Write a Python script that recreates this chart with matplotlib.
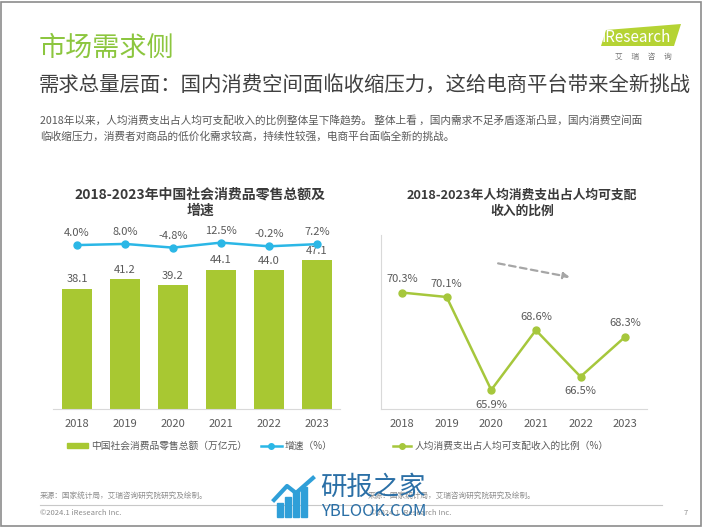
import matplotlib
matplotlib.use("Agg")
import matplotlib.pyplot as plt
from matplotlib.lines import Line2D
from matplotlib.patches import Rectangle, Polygon

plt.rcParams['font.family'] = ['Noto Sans CJK SC', 'DejaVu Sans']

# data
years = ['2018', '2019', '2020', '2021', '2022', '2023']
retail_total = [38.1, 41.2, 39.2, 44.1, 44.0, 47.1]       # 万亿元
retail_growth = [4.0, 8.0, -4.8, 12.5, -0.2, 7.2]         # %
spend_ratio = [70.3, 70.1, 65.9, 68.6, 66.5, 68.3]        # %
ratio_label_above = [True, True, False, True, False, True]

GREEN = '#a8c832'
LINE_GREEN = '#a6c73c'
BLUE = '#2bb7e6'
TXT = '#595959'
DARK = '#3a3a3a'

W, H = 702, 527
fig = plt.figure(figsize=(W / 100, H / 100), dpi=100)


def fx(px):
    return px / W


def fy(py):
    return 1 - py / H


# slide frame
fig.patches.append(Rectangle((0.001, 0.002), 0.997, 0.995, transform=fig.transFigure,
                             fill=False, edgecolor='#8c8c8c', linewidth=1.2))

# header
fig.text(fx(39), fy(48), '市场需求侧', color='#8cc63f', fontsize=19.5, va='center', ha='left')
fig.text(fx(39), fy(85), '需求总量层面：国内消费空间面临收缩压力，这给电商平台带来全新挑战',
         color='#404040', fontsize=14.7, va='center', ha='left')
fig.text(fx(40), fy(120),
         '2018年以来，人均消费支出占人均可支配收入的比例整体呈下降趋势。 整体上看 ，国内需求不足矛盾逐渐凸显，国内消费空间面',
         color=TXT, fontsize=7.7, va='center', ha='left')
fig.text(fx(40), fy(136), '临收缩压力，消费者对商品的低价化需求较高，持续性较强，电商平台面临全新的挑战。',
         color=TXT, fontsize=7.7, va='center', ha='left')

# logo
fig.patches.append(Polygon([(fx(601), fy(46)), (fx(606), fy(30)), (fx(681), fy(24)), (fx(674), fy(46))],
                           closed=True, transform=fig.transFigure, facecolor='#b5d334', edgecolor='none'))
fig.text(fx(602), fy(37), 'iResearch', color='white', fontsize=11, va='center', ha='left')
fig.text(fx(643), fy(57), '艾     瑞     咨     询', color='#777777', fontsize=5.5, va='center', ha='center')

# ---- left chart: bars + growth line ----
ax1 = fig.add_axes([fx(53), fy(409), fx(340) - fx(53), fy(230) - fy(409)])
x = list(range(len(years)))
ax1.bar(x, retail_total, width=0.62, color=GREEN, zorder=2)
for xi, v in zip(x, retail_total):
    ax1.text(xi, v + 1.3, f'{v:.1f}', ha='center', va='bottom', fontsize=8, color=TXT)
ax1.set_xlim(-0.5, 5.48)
ax1.set_ylim(0, 56.6)
ax1.set_xticks(x)
ax1.set_xticklabels(years, fontsize=8, color=TXT)
ax1.tick_params(axis='x', length=0, pad=7)
ax1.set_yticks([])
for s in ['top', 'right', 'left']:
    ax1.spines[s].set_visible(False)
ax1.spines['bottom'].set_color('#d9d9d9')
ax1.set_title('2018-2023年中国社会消费品零售总额及\n增速', fontsize=10, fontweight='bold',
              color=DARK, x=(200 - 53) / (340 - 53), y=1.04, linespacing=1.22)

ax1b = ax1.twinx()
ax1b.plot(x, retail_growth, color=BLUE, linewidth=1.8, marker='o', markersize=5, zorder=3)
for xi, v in zip(x, retail_growth):
    ax1b.annotate(f'{v:.1f}%', (xi, v), xytext=(0, 5), textcoords='offset points',
                  ha='center', va='bottom', fontsize=8, color=TXT)
ax1b.set_ylim(-561, 56)
ax1b.set_yticks([])
ax1b.axis('off')

# ---- right chart: ratio line ----
ax2 = fig.add_axes([fx(381), fy(409), fx(647) - fx(381), fy(235) - fy(409)])
ax2.plot(x, spend_ratio, color=LINE_GREEN, linewidth=1.8, marker='o', markersize=5)
for xi, v, up in zip(x, spend_ratio, ratio_label_above):
    ax2.annotate(f'{v:.1f}%', (xi, v), xytext=(0, 6 if up else -7), textcoords='offset points',
                 ha='center', va='bottom' if up else 'top', fontsize=8, color=TXT)
ax2.set_xlim(-0.47, 5.49)
ax2.set_ylim(65.04, 72.9)
ax2.set_xticks(x)
ax2.set_xticklabels(years, fontsize=8, color=TXT)
ax2.tick_params(axis='x', length=0, pad=7)
ax2.set_yticks([])
for s in ['top', 'right']:
    ax2.spines[s].set_visible(False)
ax2.spines['bottom'].set_color('#d9d9d9')
ax2.spines['left'].set_color('#d9d9d9')
ax2.set_title('2018-2023年人均消费支出占人均可支配\n收入的比例', fontsize=9.2, fontweight='bold',
              color=DARK, x=(522 - 381) / (647 - 381), y=1.07, linespacing=1.25)
ax2.annotate('', xy=(0.72, 0.755), xytext=(0.43, 0.84), xycoords='axes fraction',
             arrowprops=dict(arrowstyle='-|>', linestyle=(0, (3, 2)), color='#a6a6a6',
                             linewidth=1.6, mutation_scale=9))

# legends
h1 = [Rectangle((0, 0), 1, 1, color=GREEN),
      Line2D([], [], color=BLUE, marker='o', markersize=4, linewidth=1.8)]
fig.legend(h1, ['中国社会消费品零售总额（万亿元）', '增速（%）'], loc='center left',
           bbox_to_anchor=(fx(58), fy(446)), ncol=2, frameon=False, fontsize=7,
           labelcolor=TXT, handlelength=2.2, handleheight=0.5, columnspacing=1.4, handletextpad=0.3)
h2 = [Line2D([], [], color=LINE_GREEN, marker='o', markersize=4, linewidth=1.8)]
fig.legend(h2, ['人均消费支出占人均可支配收入的比例（%）'], loc='center left',
           bbox_to_anchor=(fx(384), fy(446)), frameon=False, fontsize=7,
           labelcolor=TXT, handlelength=1.9, handletextpad=0.3)

# footer
fig.text(fx(40), fy(497), '来源：国家统计局，艾瑞咨询研究院研究及绘制。', fontsize=5.5, color='#8c8c8c', va='center')
fig.text(fx(368), fy(497), '来源：国家统计局，艾瑞咨询研究院研究及绘制。', fontsize=5.5, color='#8c8c8c', va='center')
fig.add_artist(Line2D([fx(40), fx(662)], [fy(505), fy(505)], transform=fig.transFigure,
                      color='#c8c8c8', linewidth=0.8))
fig.text(fx(40), fy(513), '©2024.1 iResearch Inc.', fontsize=5.5, color='#8c8c8c', va='center')
fig.text(fx(370), fy(513), '©2024.1 iResearch Inc.', fontsize=5.5, color='#8c8c8c', va='center')
fig.text(fx(688), fy(513), '7', fontsize=5.5, color='#8c8c8c', va='center', ha='right')

# watermark
wm = '#2a6fa6'
for i, hgt in enumerate([14, 20, 26, 30]):
    fig.patches.append(Rectangle((fx(277 + i * 8), fy(517)), fx(5.5), hgt / H,
                                 transform=fig.transFigure, color='#2f9fd8', zorder=10))
fig.add_artist(Line2D([fx(274), fx(287), fx(296), fx(313)], [fy(500), fy(486), fy(493), fy(478)],
                      transform=fig.transFigure, color='#2f9fd8', linewidth=3, zorder=10))
fig.text(fx(320), fy(487), '研报之家', fontsize=19, color=wm, va='center', ha='left', zorder=11)
fig.text(fx(321), fy(511), 'YBLOOK.COM', fontsize=12, color=wm, va='center', ha='left', zorder=11)

fig.savefig('out.png', dpi=100)
